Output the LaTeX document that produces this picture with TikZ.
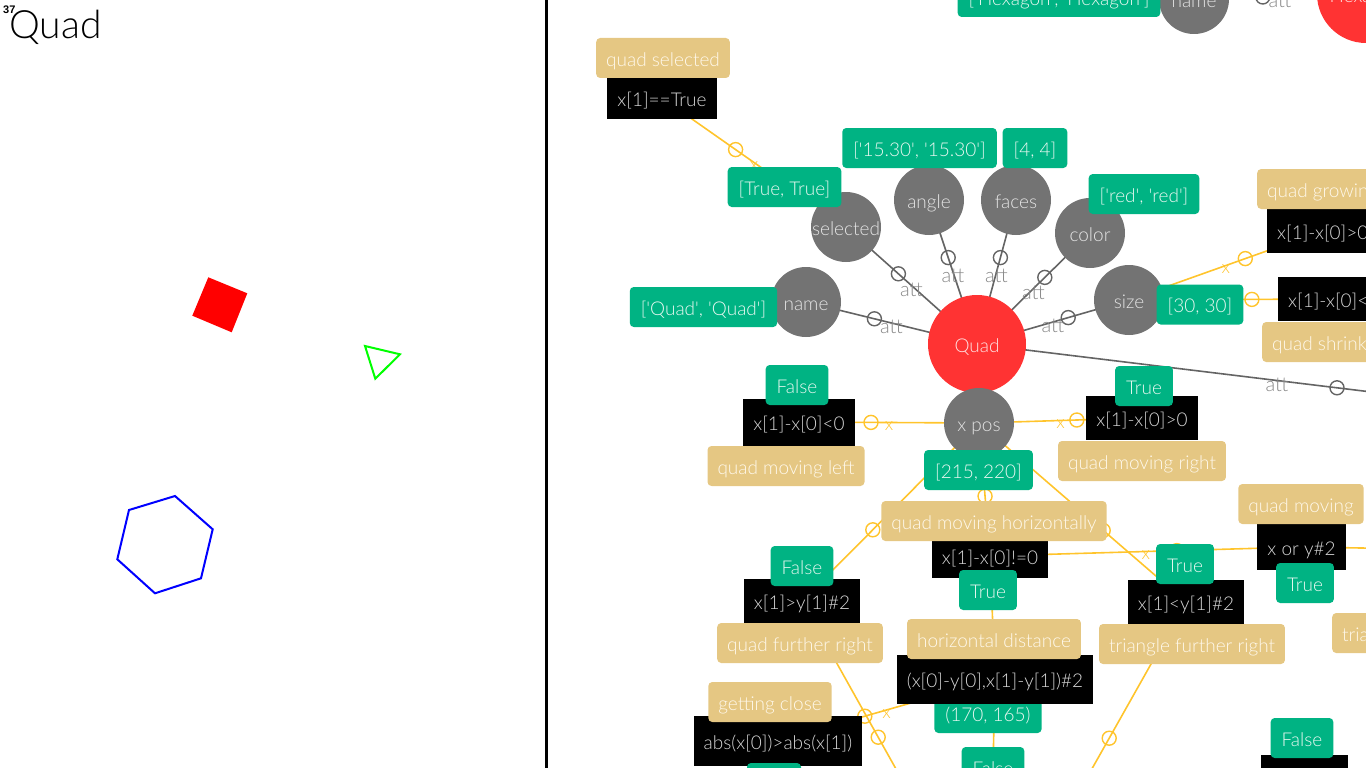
\documentclass[tikz,border=0pt]{standalone}
\usepackage{fontspec}
\IfFontExistsTF{Lato Light}{\setmainfont{Lato Light}}{\setmainfont{Lato}}
\newfontfamily\numfont{Liberation Sans}
\definecolor{objred}{RGB}{255,51,51}
\definecolor{objtext}{RGB}{255,226,226}
\definecolor{attgray}{RGB}{115,115,115}
\definecolor{attrtext}{RGB}{228,228,228}
\definecolor{valgreen}{RGB}{0,179,131}
\definecolor{valtext}{RGB}{232,248,241}
\definecolor{tagtan}{RGB}{229,199,131}
\definecolor{tagtext}{RGB}{255,249,236}
\definecolor{condtext}{RGB}{215,215,215}
\definecolor{edgegray}{RGB}{100,100,100}
\definecolor{attlabelgray}{RGB}{135,135,135}
\definecolor{linkyellow}{RGB}{255,196,44}
\pgfdeclarelayer{edges}
\pgfsetlayers{edges,main}
\newcommand{\boxfont}{\fontsize{19}{21}\selectfont}
\newcommand{\sq}{\textquotesingle}

\begin{document}
\begin{tikzpicture}[x=1pt, y=-1pt,
  objnode/.style={circle, fill=objred, text=objtext, minimum size=98pt, inner sep=0pt, text height=16.5pt, text depth=0pt, font=\boxfont},
  attrnode/.style={circle, fill=attgray, text=attrtext, minimum size=70pt, inner sep=0pt, text height=16.5pt, text depth=0pt, font=\boxfont},
  valbox/.style={rectangle, rounded corners=4pt, fill=valgreen, text=valtext, minimum height=40pt, inner xsep=11pt, text height=16.5pt, text depth=0pt, font=\boxfont},
  condbox/.style={rectangle, fill=black, text=condtext, minimum height=44pt, inner xsep=10pt, text height=16.5pt, text depth=0pt, font=\boxfont},
  tagbox/.style={rectangle, rounded corners=4pt, fill=tagtan, text=tagtext, minimum height=40pt, inner xsep=10pt, text height=16.5pt, text depth=0pt, font=\boxfont},
  attedge/.style={draw=edgegray, line width=1.6pt},
  linkedge/.style={draw=linkyellow, line width=1.6pt},
  attring/.style={circle, draw=edgegray, line width=1.4pt, minimum size=14pt, inner sep=0pt},
  linkring/.style={circle, draw=linkyellow, line width=1.4pt, minimum size=14pt, inner sep=0pt},
  attlabel/.style={text=attlabelgray, font=\fontsize{20}{22}\selectfont, inner sep=0pt, yshift=-4pt},
  linklabel/.style={text=linkyellow, font=\fontsize{18}{20}\selectfont, inner sep=0pt, yshift=-4pt}
]
\useasboundingbox (0,0) rectangle (1366,768);
\clip (0,0) rectangle (1366,768);

\node[anchor=base west, inner sep=0pt, font=\numfont\bfseries\fontsize{11}{12}\selectfont] (framenum) at (3,14) {37};
\node[anchor=base west, inner sep=0pt, font=\fontsize{39}{42}\selectfont] (title) at (9,39) {Quad};
\fill[red] (208.3,277.3) -- (247.3,293.3) -- (231.7,332.3) -- (192.3,315.7) -- cycle;
\draw[green, line width=2pt] (365,346) -- (400,354.3) -- (375.3,378.7) -- cycle;
\draw[blue, line width=2pt] (175,496) -- (212.7,529.3) -- (201,578.3) -- (155,593.3) -- (117.3,559.3) -- (129,510) -- cycle;
\draw[line width=2.5pt] (546.5,0) -- (546.5,768);

\node[objnode] (quadobj) at (977,344) {Quad};
\node[objnode] (hexobj) at (1366,-6) {Hexagon};
\node[attrnode] (hexname) at (1194,-1) {name};
\node[attrnode] (quadsel) at (846,227) {selected};
\node[attrnode] (quadangle) at (929,200) {angle};
\node[attrnode] (quadfaces) at (1016,200) {faces};
\node[attrnode] (quadcolor) at (1090,233) {color};
\node[attrnode] (quadname) at (806,302) {name};
\node[attrnode] (quadsize) at (1129,300) {size};
\node[attrnode] (quadxpos) at (979,423) {x pos};
\coordinate (offattr) at (1577,417);
\coordinate (offdl) at (929,828);
\coordinate (offdr) at (1058,829);
\coordinate (offright) at (1600,552);

\node[valbox] (valhdist) at (988,713) {(170, 165)};

\node[condbox, minimum height=41pt] (condsel) at (662,98) {x[1]==True};
\node[condbox, anchor=west] (condgrow) at (1267,231) {x[1]-x[0]>0};
\node[condbox, anchor=west] (condshrink) at (1278,299) {x[1]-x[0]<0};
\node[condbox, minimum height=47pt] (condleft) at (799,422) {x[1]-x[0]<0};
\node[condbox] (condright) at (1142,418) {x[1]-x[0]>0};
\node[condbox] (condhoriz) at (990,556) {x[1]-x[0]!=0};
\node[condbox] (condqright) at (802,601) {x[1]>y[1]\#2};
\node[condbox] (condtright) at (1186,602) {x[1]<y[1]\#2};
\node[condbox, minimum height=46pt] (condmove) at (1301.5,547) {x or y\#2};
\node[condbox, minimum height=49pt] (condhdist) at (995,679) {(x[0]-y[0],x[1]-y[1])\#2};
\node[condbox, minimum height=50pt] (condclose) at (778,741) {abs(x[0])>abs(x[1])};
\node[condbox, minimum width=87pt] (condbr) at (1304,777) {};

\node[tagbox] (lblsel) at (663,58) {quad selected};
\node[tagbox, anchor=west] (lblgrow) at (1257,189) {quad growing};
\node[tagbox, anchor=west] (lblshrink) at (1262,342) {quad shrinking};
\node[tagbox] (lblleft) at (786,466) {quad moving left};
\node[tagbox] (lblright) at (1142,461) {quad moving right};
\node[tagbox] (lblhoriz) at (994,521) {quad moving horizontally};
\node[tagbox] (lblmove) at (1301,504) {quad moving};
\node[tagbox] (lblqright) at (800,643) {quad further right};
\node[tagbox] (lblhdist) at (994,639) {horizontal distance};
\node[tagbox] (lbltright) at (1192,644) {triangle further right};
\node[tagbox, anchor=west] (lbltria) at (1332,633) {triangle};
\node[tagbox] (lblclose) at (770,702) {getting close};

\node[valbox] (valhexname) at (1059,-3) {[\sq Hexagon\sq, \sq Hexagon\sq]};
\node[valbox] (valsel) at (784.5,187) {[True, True]};
\node[valbox] (valangle) at (919.5,148) {[\sq 15.30\sq, \sq 15.30\sq]};
\node[valbox] (valfaces) at (1035,148) {[4, 4]};
\node[valbox] (valcolor) at (1144,194) {[\sq red\sq, \sq red\sq]};
\node[valbox] (valname) at (703.5,307) {[\sq Quad\sq, \sq Quad\sq]};
\node[valbox] (valsize) at (1200,304.5) {[30, 30]};
\node[valbox] (valxpos) at (978.5,470) {[215, 220]};
\node[valbox] (resleft) at (797,385) {False};
\node[valbox] (resright) at (1144,386) {True};
\node[valbox] (resqright) at (802,566) {False};
\node[valbox] (reshoriz) at (988,590) {True};
\node[valbox] (restright) at (1185,564) {True};
\node[valbox] (resmove) at (1305,583) {True};
\node[valbox] (resbottom) at (993,767) {False};
\node[valbox] (resbr) at (1302,738) {False};
\node[valbox, minimum width=54pt] (resbl) at (774,783) {};

\begin{pgfonlayer}{edges}
\draw[attedge] (hexobj.center) -- node[attring, pos=0.6] {} node[attlabel, pos=0.5] {att} (hexname.center);
\draw[attedge] (quadobj.center) -- node[attring, pos=0.6] {} node[attlabel, pos=0.5] {att} (quadname.center);
\draw[attedge] (quadobj.center) -- node[attring, pos=0.6] {} node[attlabel, pos=0.5] {att} (quadsel.center);
\draw[attedge] (quadobj.center) -- node[attring, pos=0.6] {} node[attlabel, pos=0.5] {att} (quadangle.center);
\draw[attedge] (quadobj.center) -- node[attring, pos=0.6] {} node[attlabel, pos=0.5] {att} (quadfaces.center);
\draw[attedge] (quadobj.center) -- node[attring, pos=0.6] {} node[attlabel, pos=0.5] {att} (quadcolor.center);
\draw[attedge] (quadobj.center) -- node[attring, pos=0.6] {} node[attlabel, pos=0.5] {att} (quadsize.center);
\draw[attedge] (quadobj.center) -- node[attring, pos=0.6] {} node[attlabel, pos=0.5] {att} (offattr);
\draw[linkedge] (quadsel.center) -- node[linkring, pos=0.6] {} node[linklabel, pos=0.5] {x} (condsel.center);
\draw[linkedge] (quadxpos.center) -- node[linkring, pos=0.6] {} node[linklabel, pos=0.5] {x} (condleft.center);
\draw[linkedge] (quadxpos.center) -- node[linkring, pos=0.6] {} node[linklabel, pos=0.5] {x} (condright.center);
\draw[linkedge] (quadsize.center) -- node[linkring, pos=0.6] {} (condshrink.center);
\draw[linkedge] (quadsize.center) -- node[linkring, pos=0.6] {} node[linklabel, pos=0.5] {x} (condgrow.center);
\draw[linkedge] (quadxpos.center) -- node[linkring, pos=0.55] {} (condhoriz.center);
\draw[linkedge] (quadxpos.center) -- node[linkring, pos=0.6] {} (condqright.center);
\draw[linkedge] (quadxpos.center) -- node[linkring, pos=0.6] {} (condtright.center);
\draw[linkedge] (condhoriz.center) -- node[linkring, pos=0.6] {} node[linklabel, pos=0.5] {x} (condmove.center);
\draw[linkedge] (condhoriz.center) -- (condhdist.center);
\draw[linkedge] (condhdist.center) -- node[linkring, pos=0.6] {} node[linklabel, pos=0.5] {x} (condclose.center);
\draw[linkedge] (condhdist.center) -- (resbottom.center);
\draw[linkedge] (condqright.center) -- node[linkring, pos=0.6] {} (offdl);
\draw[linkedge] (condtright.center) -- node[linkring, pos=0.6] {} (offdr);
\draw[linkedge] (condmove.center) -- (offright);
\end{pgfonlayer}
\end{tikzpicture}
\end{document}
